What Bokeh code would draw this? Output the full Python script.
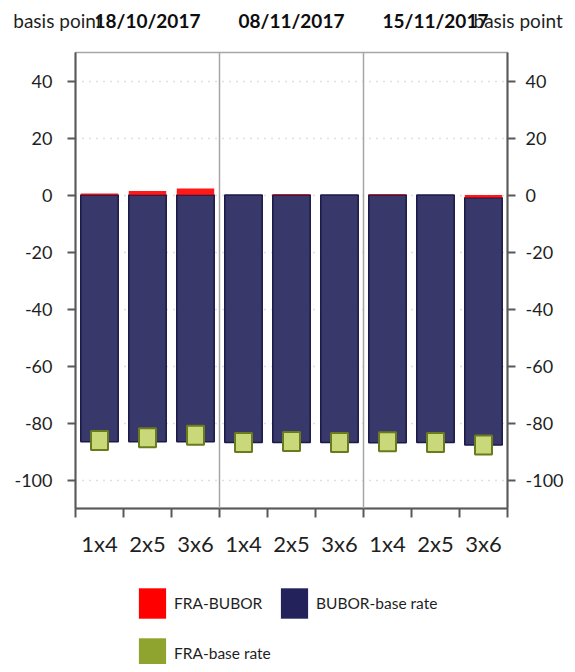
import numpy as np
from bokeh.plotting import figure
from bokeh.layouts import column
from bokeh.models import (Range1d, LinearAxis, FixedTicker, CustomJSTickFormatter,
                          Span, Legend, LegendItem, ColumnDataSource)
from bokeh.core.properties import value
from bokeh.embed import file_html
from bokeh.resources import INLINE

# ---- data ----
dates = ["18/10/2017", "08/11/2017", "15/11/2017"]
tenors = ["1x4", "2x5", "3x6"]
fra_bubor = [0.5, 1.4, 2.3, 0.0, 0.3, 0.0, 0.3, 0.0, -1.0]
bubor_base = [-86.6, -86.6, -86.6, -86.8, -86.8, -86.8, -86.9, -86.8, -86.7]
fra_base = [-86.1, -85.2, -84.3, -86.8, -86.5, -86.8, -86.6, -86.8, -87.7]
y_ticks = [-100, -80, -60, -40, -20, 0, 20, 40]
y_min, y_max = -110, 50
unit_label = "basis point"
series_names = ["FRA-BUBOR", "BUBOR-base rate", "FRA-base rate"]

# ---- style / layout ----
FONT = "Lato"
RED = "#ff0000"
NAVY = "#23225a"
GREEN = "#8ea42e"
AXIS = "#595959"
SEP = "#a6a6a6"
TXT = "#1f1f1f"

W = 567
HEADER_H = 51
MAIN_H = 524
LEG_H = 89
BL, BR, BT, BB = 75, 60, 1, 67

tick_labels = [t for d in dates for t in tenors]
n = len(tick_labels)
xs = np.arange(n) + 0.5
fb = np.array(fra_bubor)
neg = np.minimum(fb, 0)
src = ColumnDataSource(dict(
    x=xs,
    red_top=fb, red_bottom=np.zeros(n),
    navy_top=neg, navy_bottom=neg + np.array(bubor_base),
    green=np.array(fra_base),
))
x_range = Range1d(0, n)

def base_fig(height, **kw):
    f = figure(width=W, height=height, output_backend="svg",
               toolbar_location=None, background_fill_color="white",
               border_fill_color="white", **kw)
    f.grid.visible = False
    return f

# ---- main chart ----
p = base_fig(MAIN_H, x_range=x_range, y_range=Range1d(y_min, y_max),
             min_border_left=BL, min_border_right=BR, min_border_top=BT,
             min_border_bottom=BB)
p.outline_line_color = SEP
p.outline_line_width = 1.5
p.ygrid.visible = True
p.ygrid.ticker = FixedTicker(ticks=y_ticks)
p.ygrid.grid_line_color = "#bfbfbf"
p.ygrid.grid_line_dash = "1 6"
p.ygrid.grid_line_width = 1.5

p.vbar(x="x", top="navy_top", bottom="navy_bottom", width=0.78, source=src,
       fill_color=NAVY, fill_alpha=0.9, line_color="#1b1a48", line_width=1.5)
p.vbar(x="x", top="red_top", bottom="red_bottom", width=0.78, source=src,
       fill_color=RED, fill_alpha=0.9, line_color=None)
p.rect(x="x", y="green", width=17, height=19, width_units="screen",
       height_units="screen", source=src, fill_color="#c9d979",
       line_color="#6a7a1f", line_width=2)

for i in range(1, len(dates)):
    p.add_layout(Span(location=i * len(tenors), dimension="height",
                      line_color=SEP, line_width=1.5))

yfmt = CustomJSTickFormatter(code="return tick.toFixed(0);")

def style_y(ax, standoff):
    ax.ticker = FixedTicker(ticks=y_ticks)
    ax.formatter = yfmt
    ax.axis_line_color = AXIS
    ax.axis_line_width = 2
    ax.major_tick_line_color = AXIS
    ax.major_tick_line_width = 2
    ax.major_tick_out = 8
    ax.major_tick_in = 0
    ax.minor_tick_line_color = None
    ax.major_label_text_font = FONT
    ax.major_label_text_font_size = "18px"
    ax.major_label_text_color = TXT
    ax.major_label_standoff = standoff

style_y(p.yaxis[0], 15)
ry = LinearAxis()
style_y(ry, 10)
p.add_layout(ry, "right")

xa = p.xaxis[0]
xa.ticker = FixedTicker(ticks=list(xs), minor_ticks=list(range(n + 1)))
xa.formatter = CustomJSTickFormatter(args=dict(labels=tick_labels),
                                     code="return labels[Math.floor(tick)];")
xa.axis_line_color = AXIS
xa.axis_line_width = 2
xa.major_tick_out = 0
xa.major_tick_in = 0
xa.minor_tick_line_color = AXIS
xa.minor_tick_line_width = 2
xa.minor_tick_out = 9
xa.minor_tick_in = 0
xa.major_label_text_font = FONT
xa.major_label_text_font_size = "22px"
xa.major_label_text_color = TXT
xa.major_label_standoff = 12

# ---- header: group titles, unit labels as side tick labels ----
ROW_Y = HEADER_H - 20
h = base_fig(HEADER_H, x_range=x_range, y_range=Range1d(0, HEADER_H),
             min_border=0, x_axis_location=None, y_axis_location=None,
             outline_line_color=None)
title_x = [(i + 0.5) * len(tenors) for i in range(len(dates))]
h.text(x=title_x, y=[ROW_Y] * len(dates), text=dates, text_align="center",
       text_baseline="middle", text_font=value(FONT), text_font_size="19px",
       text_font_style="bold", text_color="#0d0d0d")

def unit_axis(standoff):
    ax = LinearAxis(ticker=FixedTicker(ticks=[ROW_Y]),
                    formatter=CustomJSTickFormatter(args=dict(t=unit_label),
                                                    code="return t;"))
    ax.axis_line_color = None
    ax.major_tick_line_color = None
    ax.minor_tick_line_color = None
    ax.major_tick_out = 0
    ax.major_label_standoff = standoff
    ax.major_label_text_font = FONT
    ax.major_label_text_font_size = "19px"
    ax.major_label_text_color = TXT
    return ax

h.add_layout(unit_axis(-27), "left")
h.add_layout(unit_axis(-34), "right")

# ---- series legend ----
lf = base_fig(LEG_H, x_range=x_range, y_range=Range1d(0, 1), min_border=0,
              x_axis_location=None, y_axis_location=None,
              outline_line_color=None)

def proxy(color):
    return lf.vbar(x=np.array([np.nan]), top=np.array([np.nan]), width=0.5,
                   fill_color=color, line_color=None)

r_red, r_navy, r_green = proxy(RED), proxy(NAVY), proxy(GREEN)

def make_legend(items, loc):
    return Legend(items=items, location=loc, orientation="horizontal",
                  glyph_width=34, glyph_height=38, label_height=38,
                  label_standoff=5, label_width=98, spacing=5, padding=0,
                  margin=0, border_line_color=None, background_fill_alpha=0,
                  label_text_font=FONT, label_text_font_size="15.5px",
                  label_text_color=TXT)

lf.add_layout(make_legend([LegendItem(label=series_names[0], renderers=[r_red]),
                           LegendItem(label=series_names[1], renderers=[r_navy])],
                          (135 - BL, 42)))
lf.add_layout(make_legend([LegendItem(label=series_names[2], renderers=[r_green])],
                          (135 - BL, -8)))

layout = column(h, p, lf, spacing=0)
open("out.html", "w").write(file_html(layout, INLINE))
